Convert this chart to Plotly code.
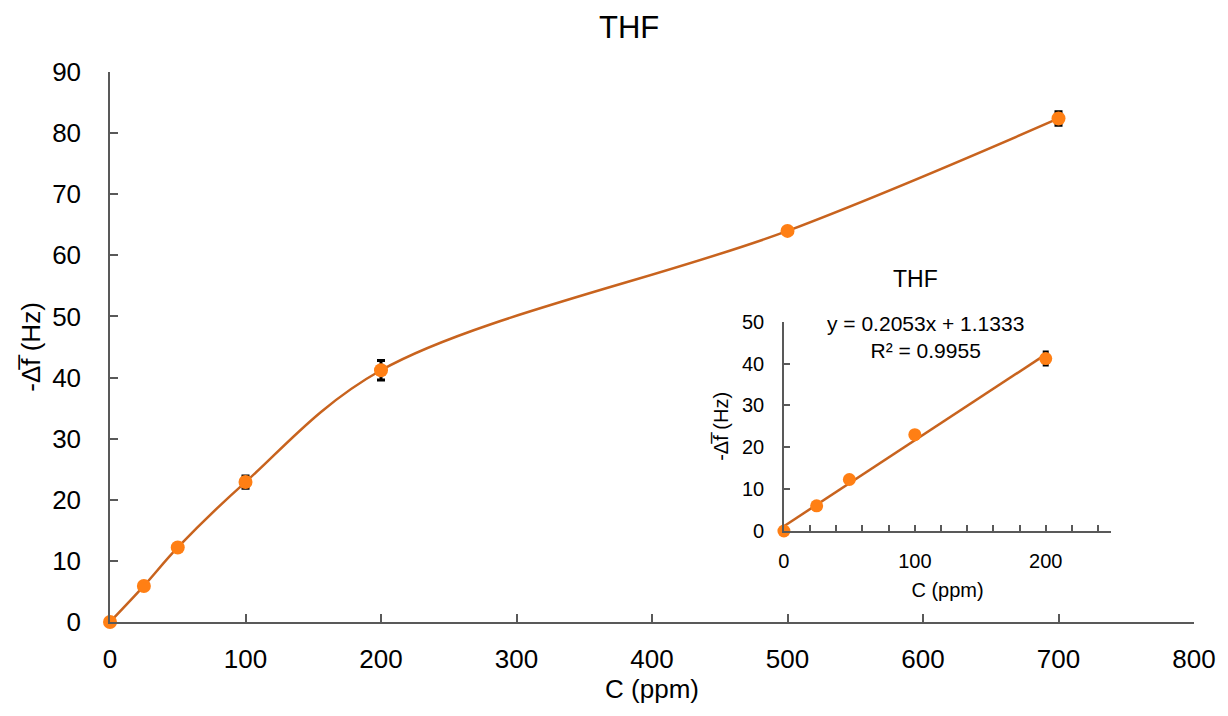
import plotly.graph_objects as go

# data
conc = [0, 25, 50, 100, 200, 500, 700]
freq = [0, 5.9, 12.2, 22.9, 41.2, 64.0, 82.4]
err = [0.2, 0.3, 0.5, 1.0, 1.6, 0.4, 1.1]

inset_conc = [0, 25, 50, 100, 200]
inset_freq = [0, 6.0, 12.3, 23.0, 41.2]
inset_err = [0.2, 0.3, 0.5, 0.5, 1.6]

slope, intercept = 0.2053, 1.1333
fit_x = [0, 200]
fit_y = [slope * v + intercept for v in fit_x]

x_ticks_main = [0, 100, 200, 300, 400, 500, 600, 700, 800]
y_ticks_main = [0, 10, 20, 30, 40, 50, 60, 70, 80, 90]

LINE = "#C8631E"
MARK = "#FF7F14"
AX = "#595959"
FONT = "Liberation Sans, Arial, sans-serif"

fig = go.Figure()

fig.add_trace(go.Scatter(
    x=conc, y=freq, mode="lines+markers",
    line=dict(color=LINE, width=2.5, shape="spline", smoothing=1.0),
    marker=dict(color=MARK, size=14),
    error_y=dict(type="data", array=err, color="black", thickness=3, width=4),
    cliponaxis=False, showlegend=False, xaxis="x", yaxis="y"))

fig.add_trace(go.Scatter(
    x=fit_x, y=fit_y, mode="lines",
    line=dict(color=LINE, width=2.5),
    cliponaxis=False, showlegend=False, xaxis="x2", yaxis="y2"))

fig.add_trace(go.Scatter(
    x=inset_conc, y=inset_freq, mode="markers",
    marker=dict(color=MARK, size=13),
    error_y=dict(type="data", array=inset_err, color="black", thickness=2.5, width=3),
    cliponaxis=False, showlegend=False, xaxis="x2", yaxis="y2"))

axis_common = dict(showgrid=False, zeroline=False, showline=True, linecolor=AX,
                   linewidth=1.5, ticks="inside", tickcolor=AX, tickwidth=1.5)

fig.update_layout(
    width=1228, height=716,
    margin=dict(l=110, r=28, t=72, b=94),
    paper_bgcolor="white", plot_bgcolor="white",
    font=dict(family=FONT, color="black"),
    xaxis=dict(**axis_common, range=[0, 800], tickvals=x_ticks_main, ticklen=8,
               tickfont=dict(size=26), ticklabelstandoff=13,
               title=dict(text="C (ppm)", font=dict(size=26), standoff=6)),
    yaxis=dict(**axis_common, range=[0, 90], tickvals=y_ticks_main, ticklen=8,
               tickfont=dict(size=26), ticklabelstandoff=22,
               title=dict(text="-Δf\u0305 (Hz)", font=dict(size=26), standoff=4)),
    xaxis2=dict(**axis_common, domain=[0.6217, 0.9236], anchor="y2", range=[0, 250],
                tickvals=list(range(0, 241, 20)),
                ticktext=["0", "", "", "", "", "100", "", "", "", "", "200", "", ""],
                ticklen=6, tickfont=dict(size=20), ticklabelstandoff=11,
                title=dict(text="C (ppm)", font=dict(size=20), standoff=12)),
    yaxis2=dict(**axis_common, domain=[0.1655, 0.546], anchor="x2", range=[0, 50],
                dtick=10, ticklen=6, tickfont=dict(size=20), ticklabelstandoff=14,
                title=dict(text="-Δf\u0305 (Hz)", font=dict(size=20), standoff=8)),
    annotations=[
        dict(text="THF", x=632, y=27, xref="paper", yref="paper", showarrow=False,
             font=dict(size=31)),
        dict(text="THF", x=920, y=279, showarrow=False, font=dict(size=23)),
        dict(text="y = 0.2053x + 1.1333<br>R² = 0.9955", x=930, y=337,
             showarrow=False, font=dict(size=21)),
    ],
)

# convert pixel positions of annotations to paper coords
W, H = 1228, 716
l, r, t, b = 110, 28, 72, 94
pw, ph = W - l - r, H - t - b
for a in fig.layout.annotations:
    px, py = a.x, a.y
    a.xref = "paper"; a.yref = "paper"
    a.x = (px - l) / pw
    a.y = (H - b - py) / ph
    a.xanchor = "center"; a.yanchor = "middle"

fig.write_html("out.html")
